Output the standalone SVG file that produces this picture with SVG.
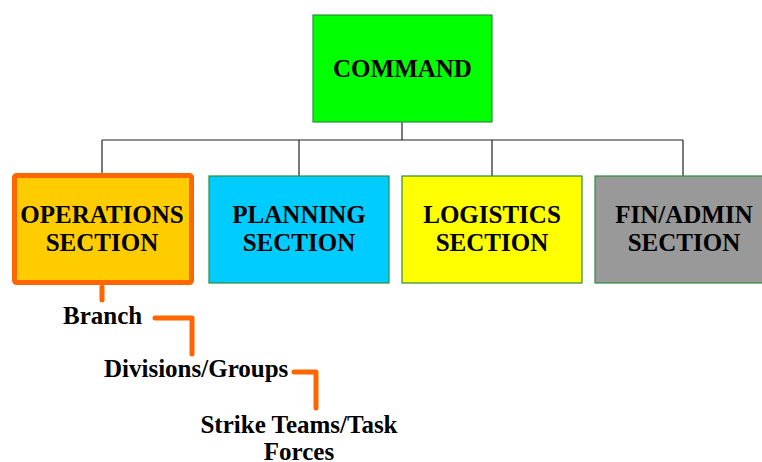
<svg xmlns="http://www.w3.org/2000/svg" width="762" height="462" viewBox="0 0 762 462">
<style>
.box{stroke:#2e8b3e;stroke-width:1.2}
.t{font-family:"Liberation Serif","Times New Roman",serif;font-weight:bold;font-size:25px;fill:#000;text-anchor:middle}
.lt{font-family:"Liberation Serif","Times New Roman",serif;font-weight:bold;font-size:25px;fill:#000}
.conn{stroke:#222;stroke-width:1.2;fill:none}
.or{stroke:#ff6600;stroke-width:5;fill:none;stroke-linecap:round;stroke-linejoin:round}
</style>
<rect width="762" height="462" fill="#fff"/>
<g id="connectors">
<path class="conn" d="M402 122V140M102 140H683M102 140V173M299 140V176M492 140V176M683 140V176"/>
<path class="or" d="M102 287V300"/>
<path class="or" d="M155 318H192V354"/>
<path class="or" d="M294 372H316V408"/>
</g>
<g id="command">
<rect class="box" x="313" y="15" width="179" height="107" fill="#00ff00"/>
<text class="t" x="402.5" y="77">COMMAND</text>
</g>
<g id="operations">
<rect x="14.5" y="175.5" width="177" height="107" rx="2" fill="#ffcc00" stroke="#ff6600" stroke-width="5"/>
<text class="t" x="102" y="223">OPERATIONS</text>
<text class="t" x="102" y="251">SECTION</text>
</g>
<g id="planning">
<rect class="box" x="209" y="176" width="180" height="107" fill="#00ccff"/>
<text class="t" x="299" y="223">PLANNING</text>
<text class="t" x="299" y="251">SECTION</text>
</g>
<g id="logistics">
<rect class="box" x="402" y="176" width="180" height="107" fill="#ffff00"/>
<text class="t" x="492" y="223">LOGISTICS</text>
<text class="t" x="492" y="251">SECTION</text>
</g>
<g id="finadmin">
<rect class="box" x="595" y="176" width="180" height="107" fill="#999999"/>
<text class="t" x="684" y="223">FIN/ADMIN</text>
<text class="t" x="684" y="251">SECTION</text>
</g>
<g id="branch">
<text class="lt" x="63" y="324">Branch</text>
</g>
<g id="divisions">
<text class="lt" x="104" y="377">Divisions/Groups</text>
</g>
<g id="strike">
<text class="t" x="299" y="433">Strike Teams/Task</text>
<text class="t" x="299" y="460">Forces</text>
</g>
</svg>
